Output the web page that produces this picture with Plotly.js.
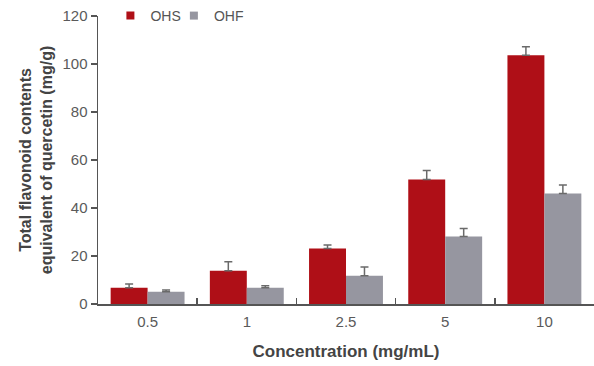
<!DOCTYPE html>
<html>
<head>
<meta charset="utf-8">
<script src="https://cdn.plot.ly/plotly-3.0.1.min.js"></script>
<style>html,body{margin:0;padding:0;background:#fff;}#chart{width:594px;height:366px;}</style>
</head>
<body>
<div id="chart"></div>
<script>
const categories = ["0.5", "1", "2.5", "5", "10"];
const ohsValues = [6.8, 13.9, 23.1, 51.9, 103.6];
const ohsErrors = [1.5, 3.7, 1.5, 3.7, 3.6];
const ohfValues = [5.1, 6.8, 11.8, 28.1, 46.0];
const ohfErrors = [0.7, 0.8, 3.6, 3.4, 3.6];
const yTicks = [0, 20, 40, 60, 80, 100, 120];
const seriesNames = ["OHS", "OHF"];
const seriesColors = ["#AF0F17", "#9696A0"];

const errStyle = (arr) => ({type: "data", array: arr, arrayminus: arr.map(() => 0), symmetric: false, visible: true, color: "#6a6a6a", thickness: 1.5, width: 4});

const traces = [
  {type: "bar", name: seriesNames[0], x: categories, y: ohsValues, marker: {color: seriesColors[0]}, error_y: errStyle(ohsErrors), showlegend: false},
  {type: "bar", name: seriesNames[1], x: categories, y: ohfValues, marker: {color: seriesColors[1]}, error_y: errStyle(ohfErrors), showlegend: false},
  {type: "scatter", mode: "markers", name: seriesNames[0], x: [null], y: [null], marker: {symbol: "square", size: 8, color: seriesColors[0]}, showlegend: true, legend: "legend"},
  {type: "scatter", mode: "markers", name: seriesNames[1], x: [null], y: [null], marker: {symbol: "square", size: 8, color: seriesColors[1]}, showlegend: true, legend: "legend2"}
];

const titleFont = {size: 17, color: "#444", family: "Liberation Sans, Arial, sans-serif", weight: "bold"};
const legendStyle = (x) => ({orientation: "h", x: x, y: 1.0, xanchor: "left", yanchor: "middle", font: {size: 14, color: "#555"}, itemwidth: 30, bgcolor: "rgba(0,0,0,0)"});

const layout = {
  width: 594, height: 366,
  margin: {l: 98, r: 0, t: 16, b: 62},
  paper_bgcolor: "#fff", plot_bgcolor: "#fff",
  barmode: "group", bargap: 0.255, bargroupgap: 0,
  font: {family: "Liberation Sans, Arial, sans-serif", size: 15, color: "#5a5a5a"},
  showlegend: true,
  legend: legendStyle(0.025),
  legend2: legendStyle(0.153),
  xaxis: {
    type: "category", showgrid: false, showline: true, linecolor: "#555", linewidth: 1.5,
    ticks: "inside", tickson: "boundaries", ticklen: 6, tickcolor: "#555", tickwidth: 1.5,
    tickfont: {size: 15, color: "#5a5a5a"}, ticklabelstandoff: 3,
    title: {text: "Concentration (mg/mL)", font: titleFont, standoff: 16}
  },
  yaxis: {
    range: [0, 120], tickvals: yTicks, showgrid: false, zeroline: false, showline: true, linecolor: "#555", linewidth: 1.5,
    ticks: "outside", ticklen: 6, tickcolor: "#555", tickwidth: 1.5,
    tickfont: {size: 15, color: "#5a5a5a"},
    title: {text: "Total flavonoid contents<br>equivalent of quercetin (mg/g)", font: Object.assign({}, titleFont, {size: 16}), standoff: 6}
  }
};

Plotly.newPlot("chart", traces, layout, {displayModeBar: false, staticPlot: true});
</script>
</body>
</html>
